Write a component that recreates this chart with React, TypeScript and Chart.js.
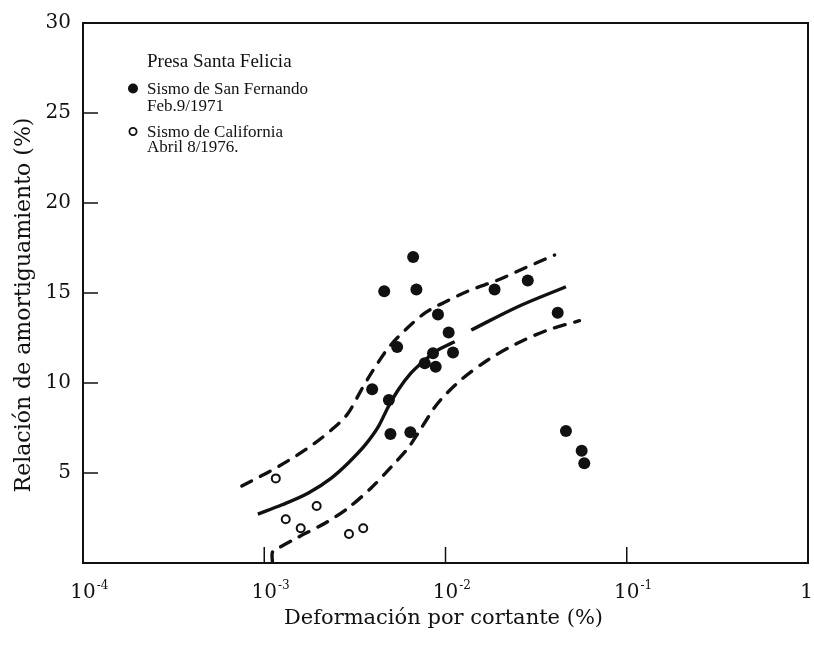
import React, { useEffect, useRef } from "react";
import { Chart, registerables } from "chart.js";

Chart.register(...registerables);

// Sismo de San Fernando (filled circles)
const sanFernandoX = [4.59e-3, 6.63e-3, 6.91e-3, 1.865e-2, 2.844e-2, 9.09e-3, 1.041e-2, 5.41e-3, 1.1e-2, 8.53e-3, 7.68e-3, 8.83e-3, 3.94e-3, 4.87e-3, 4.97e-3, 6.4e-3, 4.16e-2, 4.62e-2, 5.64e-2, 5.83e-2];
const sanFernandoY = [15.1, 17.0, 15.2, 15.2, 15.7, 13.8, 12.8, 12.0, 11.7, 11.65, 11.1, 10.9, 9.65, 9.05, 7.17, 7.26, 13.9, 7.33, 6.24, 5.54];

// Sismo de California (open circles)
const californiaX = [1.158e-3, 1.314e-3, 1.589e-3, 1.946e-3, 2.934e-3, 3.516e-3];
const californiaY = [4.7, 2.43, 1.93, 3.17, 1.61, 1.93];

// Mean curve (solid), two pieces
const meanAX = [9.22e-4, 1.244e-3, 1.752e-3, 2.344e-3, 2.907e-3, 3.606e-3, 4.252e-3, 4.83e-3, 5.48e-3, 6.46e-3, 7.71e-3, 9.09e-3, 1.124e-2];
const meanAY = [2.72, 3.22, 3.89, 4.72, 5.56, 6.56, 7.56, 8.67, 9.61, 10.56, 11.28, 11.83, 12.29];
const meanBX = [1.387e-2, 2.506e-2, 4.62e-2];
const meanBY = [12.94, 14.24, 15.35];

// Upper bound (dashed)
const upperX = [7.52e-4, 1.149e-3, 1.68e-3, 2.344e-3, 2.907e-3, 3.428e-3, 4.093e-3, 4.83e-3, 5.99e-3, 7.71e-3, 9.94e-3, 1.381e-2, 1.945e-2, 2.738e-2, 4.0e-2];
const upperY = [4.28, 5.26, 6.28, 7.39, 8.33, 9.61, 10.89, 11.94, 12.94, 13.89, 14.5, 15.17, 15.72, 16.39, 17.11];

// Lower bound (dashed)
const lowerX = [1.11e-3, 1.11e-3, 1.198e-3, 1.543e-3, 2.173e-3, 2.907e-3, 3.89e-3, 5.01e-3, 6.22e-3, 7.24e-3, 9.09e-3, 1.217e-2, 1.713e-2, 2.506e-2, 3.66e-2, 5.48e-2];
const lowerY = [0, 0.61, 0.83, 1.44, 2.22, 3.06, 4.17, 5.33, 6.39, 7.39, 8.89, 10.17, 11.28, 12.22, 12.94, 13.46];

// Axis ticks
const xTickValues = [1e-4, 1e-3, 1e-2, 1e-1, 1];
const xTickExponents = ["-4", "-3", "-2", "-1", ""];
const xTickMarks = [1e-3, 1e-2, 1e-1];
const yTickValues = [5, 10, 15, 20, 25, 30];
const yTickMarks = [5, 10, 15, 20, 25];

const xTitle = "Deformación por cortante (%)";
const yTitle = "Relación de amortiguamiento (%)";
const legendTitle = "Presa Santa Felicia";
const legendFilled = ["Sismo de San Fernando", "Feb.9/1971"];
const legendOpen = ["Sismo de California", "Abril 8/1976."];

const toPts = (xs: number[], ys: number[]) => xs.map((x, i) => ({ x, y: ys[i] }));

const INK = "#111";

const framePlugin = {
  id: "framePlugin",
  afterDraw(chart: any) {
    const { ctx, chartArea: a, scales } = chart;
    const xs = scales.x;
    const ys = scales.y;
    ctx.save();
    ctx.strokeStyle = INK;
    ctx.fillStyle = INK;
    ctx.lineWidth = 2;
    ctx.strokeRect(a.left, a.top, a.right - a.left, a.bottom - a.top);

    ctx.lineWidth = 1.5;
    yTickMarks.forEach((v) => {
      const py = ys.getPixelForValue(v);
      ctx.beginPath();
      ctx.moveTo(a.left, py);
      ctx.lineTo(a.left + 15, py);
      ctx.stroke();
    });
    xTickMarks.forEach((v) => {
      const px = xs.getPixelForValue(v);
      ctx.beginPath();
      ctx.moveTo(px, a.bottom);
      ctx.lineTo(px, a.bottom - 16);
      ctx.stroke();
    });

    // y tick labels
    ctx.font = '20px "DejaVu Serif"';
    ctx.textAlign = "right";
    ctx.textBaseline = "middle";
    yTickValues.forEach((v) => {
      const py = ys.getPixelForValue(v);
      ctx.fillText(String(v), a.left - 12, py);
    });

    // x tick labels with superscript exponent
    const W = chart.width;
    xTickValues.forEach((v, i) => {
      const px = xs.getPixelForValue(v);
      const exp = xTickExponents[i];
      const base = exp ? "10" : "1";
      ctx.font = '20px "DejaVu Serif"';
      const bw = ctx.measureText(base).width;
      ctx.font = '12px "DejaVu Serif"';
      const ew = exp ? ctx.measureText(exp).width : 0;
      let left = px - bw / 2;
      if (left + bw + ew > W - 1) left = W - 1 - bw - ew;
      const baseY = a.bottom + 35;
      ctx.textAlign = "left";
      ctx.textBaseline = "alphabetic";
      ctx.font = '20px "DejaVu Serif"';
      ctx.fillText(base, left, baseY);
      if (exp) {
        ctx.font = '12px "DejaVu Serif"';
        ctx.fillText(exp, left + bw + 1, baseY - 9);
      }
    });

    // axis titles
    ctx.font = '21px "DejaVu Serif"';
    ctx.textAlign = "center";
    ctx.textBaseline = "middle";
    ctx.fillText(xTitle, (a.left + a.right) / 2 - 2, a.bottom + 56);

    ctx.save();
    ctx.translate(24, (a.top + a.bottom) / 2 + 12);
    ctx.rotate(-Math.PI / 2);
    ctx.font = '22px "DejaVu Serif"';
    ctx.fillText(yTitle, 0, 0);
    ctx.restore();

    // legend
    const lx = a.left + 64;
    ctx.textAlign = "left";
    ctx.textBaseline = "alphabetic";
    ctx.font = '19px "Liberation Serif"';
    ctx.fillText(legendTitle, lx, a.top + 44);
    ctx.font = '17px "Liberation Serif"';
    ctx.fillText(legendFilled[0], lx, a.top + 71);
    ctx.fillText(legendFilled[1], lx, a.top + 88);
    ctx.fillText(legendOpen[0], lx, a.top + 114);
    ctx.fillText(legendOpen[1], lx, a.top + 129);

    ctx.beginPath();
    ctx.arc(lx - 14, a.top + 65.5, 5, 0, Math.PI * 2);
    ctx.fill();
    ctx.beginPath();
    ctx.lineWidth = 1.8;
    ctx.arc(lx - 14, a.top + 108.5, 3.6, 0, Math.PI * 2);
    ctx.stroke();

    ctx.restore();
  },
};

export default function App() {
  const ref = useRef<HTMLCanvasElement | null>(null);

  useEffect(() => {
    document.body.style.margin = "0";
    const canvas = ref.current;
    if (!canvas) return;
    const lineBase = {
      showLine: true,
      pointRadius: 0,
      pointHoverRadius: 0,
      borderColor: INK,
      backgroundColor: INK,
      fill: false,
    };
    const chart = new Chart(canvas, {
      type: "scatter",
      data: {
        datasets: [
          { ...lineBase, label: "mean A", data: toPts(meanAX, meanAY), borderWidth: 3.4, cubicInterpolationMode: "monotone" },
          { ...lineBase, label: "mean B", data: toPts(meanBX, meanBY), borderWidth: 3.4, cubicInterpolationMode: "monotone" },
          {
            ...lineBase,
            label: "upper",
            data: toPts(upperX, upperY),
            borderWidth: 3.4,
            borderDash: [11, 10],
            borderCapStyle: "round",
            cubicInterpolationMode: "monotone",
          },
          {
            ...lineBase,
            label: "lower",
            data: toPts(lowerX, lowerY),
            borderWidth: 3.4,
            borderDash: [11, 10],
            borderCapStyle: "round",
            tension: 0.3,
          },
          {
            label: legendFilled.join(" "),
            data: toPts(sanFernandoX, sanFernandoY),
            pointRadius: 6,
            pointBackgroundColor: INK,
            pointBorderColor: INK,
            pointBorderWidth: 0,
            showLine: false,
          },
          {
            label: legendOpen.join(" "),
            data: toPts(californiaX, californiaY),
            pointRadius: 4,
            pointBackgroundColor: "#fff",
            pointBorderColor: INK,
            pointBorderWidth: 2,
            showLine: false,
          },
        ] as any,
      },
      options: {
        responsive: false,
        animation: false,
        layout: { padding: { left: 83, right: 3, top: 23, bottom: 82 } },
        plugins: { legend: { display: false }, tooltip: { enabled: false } },
        scales: {
          x: { type: "logarithmic", min: 1e-4, max: 1, display: false },
          y: { type: "linear", min: 0, max: 30, display: false },
        },
      },
      plugins: [framePlugin],
    });
    return () => chart.destroy();
  }, []);

  return (
    <div style={{ width: 814, height: 645, background: "#fff" }}>
      <canvas ref={ref} width={814} height={645} style={{ display: "block" }} />
    </div>
  );
}
